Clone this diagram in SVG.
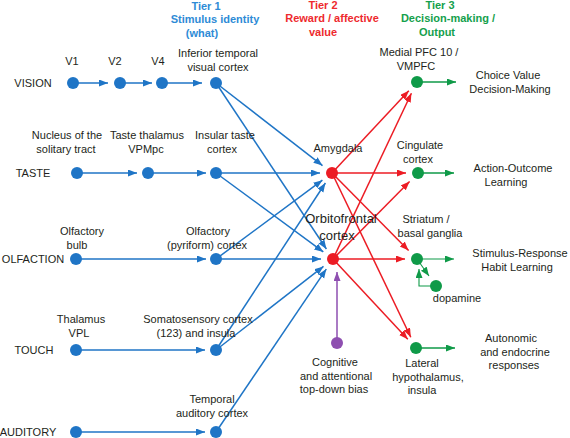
<svg xmlns="http://www.w3.org/2000/svg" width="570" height="438" viewBox="0 0 570 438">
<defs>
<style>
.lbl{font-family:"Liberation Sans",Arial,sans-serif;font-size:11px;fill:#231f20;text-anchor:middle}
.big{font-size:13px}
.tier{font-family:"Liberation Sans",Arial,sans-serif;font-size:11px;font-weight:bold;text-anchor:middle}
.t1{fill:#2e8bd6}.t2{fill:#ee2a2e}.t3{fill:#14a04c}
.cb{stroke:#1f75c6;stroke-width:1.5;fill:none}
.cr{stroke:#ec1c24;stroke-width:1.5;fill:none}
.cg{stroke:#0f9a48;stroke-width:1.5;fill:none}
.thin{stroke-width:1.1}
.cp{stroke:#8e4fb0;stroke-width:1.5;fill:none}
.nb{fill:#1f75c6}.nr{fill:#ec1c24}.ng{fill:#0f9a48}.np{fill:#8e4fb0}
</style>
<marker id="ab" markerUnits="userSpaceOnUse" markerWidth="10" markerHeight="8" refX="9" refY="3.5" orient="auto"><path d="M0,0 L9,3.5 L0,7 z" fill="#1f75c6"/></marker>
<marker id="ar" markerUnits="userSpaceOnUse" markerWidth="10" markerHeight="8" refX="9" refY="3.5" orient="auto"><path d="M0,0 L9,3.5 L0,7 z" fill="#ec1c24"/></marker>
<marker id="ag" markerUnits="userSpaceOnUse" markerWidth="10" markerHeight="8" refX="9" refY="3.5" orient="auto"><path d="M0,0 L9,3.5 L0,7 z" fill="#0f9a48"/></marker>
<marker id="ap" markerUnits="userSpaceOnUse" markerWidth="10" markerHeight="8" refX="9" refY="3.5" orient="auto"><path d="M0,0 L9,3.5 L0,7 z" fill="#8e4fb0"/></marker>
</defs>
<rect width="570" height="438" fill="#ffffff"/>

<g id="tiers">
<text class="tier t1" x="206" y="9.5">Tier 1</text>
<text class="tier t1" x="215" y="23">Stimulus identity</text>
<text class="tier t1" x="202" y="36.5">(what)</text>
<text class="tier t2" x="323" y="8.5">Tier 2</text>
<text class="tier t2" x="332" y="22">Reward / affective</text>
<text class="tier t2" x="323" y="35.5">value</text>
<text class="tier t3" x="440" y="8.5">Tier 3</text>
<text class="tier t3" x="448" y="22">Decision-making /</text>
<text class="tier t3" x="437" y="35.5">Output</text>
</g>

<g id="connectors">
<line class="cb" x1="73" y1="83" x2="108" y2="83" marker-end="url(#ab)"/>
<line class="cb" x1="120" y1="83" x2="152" y2="83" marker-end="url(#ab)"/>
<line class="cb" x1="162" y1="83" x2="202" y2="83" marker-end="url(#ab)"/>
<line class="cb" x1="77" y1="173" x2="137" y2="173" marker-end="url(#ab)"/>
<line class="cb" x1="148" y1="173" x2="206" y2="173" marker-end="url(#ab)"/>
<line class="cb" x1="76" y1="259" x2="206" y2="259" marker-end="url(#ab)"/>
<line class="cb" x1="76" y1="350" x2="205" y2="350" marker-end="url(#ab)"/>
<line class="cb" x1="76" y1="432" x2="205" y2="432" marker-end="url(#ab)"/>

<line class="cb" x1="216" y1="83" x2="322.5" y2="165.6" marker-end="url(#ab)"/>
<line class="cb" x1="216" y1="83" x2="326.4" y2="249" marker-end="url(#ab)"/>
<line class="cb" x1="216" y1="173" x2="320" y2="173" marker-end="url(#ab)"/>
<line class="cb" x1="216" y1="173" x2="323.3" y2="251.9" marker-end="url(#ab)"/>
<line class="cb" x1="216" y1="259" x2="322.4" y2="180.2" marker-end="url(#ab)"/>
<line class="cb" x1="216" y1="259" x2="321" y2="259" marker-end="url(#ab)"/>
<line class="cb" x1="216" y1="350" x2="325.4" y2="183" marker-end="url(#ab)"/>
<line class="cb" x1="216" y1="350" x2="323.5" y2="266.4" marker-end="url(#ab)"/>
<line class="cb" x1="216" y1="432" x2="326.3" y2="269.1" marker-end="url(#ab)"/>

<line class="cr" x1="332" y1="173" x2="408.8" y2="90.8" marker-end="url(#ar)"/>
<line class="cr" x1="332" y1="173" x2="406" y2="173" marker-end="url(#ar)"/>
<line class="cr" x1="332" y1="173" x2="408.6" y2="250.5" marker-end="url(#ar)"/>
<line class="cr" x1="332" y1="173" x2="410.8" y2="337.2" marker-end="url(#ar)"/>
<line class="cr" x1="333" y1="259" x2="411.4" y2="93.2" marker-end="url(#ar)"/>
<line class="cr" x1="333" y1="259" x2="409.6" y2="181.5" marker-end="url(#ar)"/>
<line class="cr" x1="333" y1="259" x2="405" y2="259" marker-end="url(#ar)"/>
<line class="cr" x1="333" y1="259" x2="407.8" y2="339.2" marker-end="url(#ar)"/>

<line class="cp" x1="337" y1="343" x2="337" y2="272" marker-end="url(#ap)"/>

<line class="cg" x1="417" y1="82" x2="456" y2="82" marker-end="url(#ag)"/>
<line class="cg" x1="418" y1="173" x2="454" y2="173" marker-end="url(#ag)"/>
<line class="cg thin" x1="417" y1="259" x2="454" y2="259" marker-end="url(#ag)"/>
<line class="cg" x1="416" y1="348" x2="455" y2="348" marker-end="url(#ag)"/>
<line class="cg thin" x1="417" y1="259" x2="429" y2="276" marker-end="url(#ag)"/>
<path class="cg thin" d="M436,286 L419,286 L419,269" marker-end="url(#ag)"/>
</g>

<g id="vision">
<text class="lbl" x="33" y="87">VISION</text>
<g id="v1"><circle class="nb" cx="73" cy="83" r="6"/><text class="lbl" x="72" y="65">V1</text></g>
<g id="v2"><circle class="nb" cx="120" cy="83" r="6"/><text class="lbl" x="115" y="65">V2</text></g>
<g id="v4"><circle class="nb" cx="162" cy="83" r="6"/><text class="lbl" x="158" y="65">V4</text></g>
<g id="it"><circle class="nb" cx="216" cy="83" r="6"/><text class="lbl" x="218" y="57">Inferior temporal</text><text class="lbl" x="218" y="70.5">visual cortex</text></g>
</g>

<g id="taste">
<text class="lbl" x="33" y="177">TASTE</text>
<g id="nts"><circle class="nb" cx="77" cy="173" r="6"/><text class="lbl" x="67" y="139">Nucleus of the</text><text class="lbl" x="66" y="152.5">solitary tract</text></g>
<g id="vpmpc"><circle class="nb" cx="148" cy="173" r="6"/><text class="lbl" x="147" y="139">Taste thalamus</text><text class="lbl" x="146" y="152.5">VPMpc</text></g>
<g id="insular"><circle class="nb" cx="216" cy="173" r="6"/><text class="lbl" x="225" y="139">Insular taste</text><text class="lbl" x="222" y="152.5">cortex</text></g>
</g>

<g id="olfaction">
<text class="lbl" x="33" y="263">OLFACTION</text>
<g id="bulb"><circle class="nb" cx="76" cy="259" r="6"/><text class="lbl" x="82" y="235">Olfactory</text><text class="lbl" x="77" y="248.5">bulb</text></g>
<g id="pyriform"><circle class="nb" cx="216" cy="259" r="6"/><text class="lbl" x="208" y="235">Olfactory</text><text class="lbl" x="207" y="248.5">(pyriform) cortex</text></g>
</g>

<g id="touch">
<text class="lbl" x="34" y="354">TOUCH</text>
<g id="vpl"><circle class="nb" cx="76" cy="350" r="6"/><text class="lbl" x="81" y="323">Thalamus</text><text class="lbl" x="79" y="336.5">VPL</text></g>
<g id="somato"><circle class="nb" cx="216" cy="350" r="6"/><text class="lbl" x="198" y="323">Somatosensory cortex</text><text class="lbl" x="196" y="336.5">(123) and insula</text></g>
</g>

<g id="auditory">
<text class="lbl" x="28" y="436">AUDITORY</text>
<g id="aud1"><circle class="nb" cx="76" cy="432" r="6"/></g>
<g id="temporal"><circle class="nb" cx="216" cy="432" r="6"/><text class="lbl" x="212" y="403">Temporal</text><text class="lbl" x="212" y="416.5">auditory cortex</text></g>
</g>

<g id="amygdala"><circle class="nr" cx="332" cy="173" r="6"/><text class="lbl" x="338" y="152">Amygdala</text></g>
<g id="ofc"><circle class="nr" cx="333" cy="259" r="6"/><text class="lbl big" x="341" y="223">Orbitofrontal</text><text class="lbl big" x="337" y="240">cortex</text></g>

<g id="cognitive"><circle class="np" cx="337" cy="343" r="6"/><text class="lbl" x="335" y="366">Cognitive</text><text class="lbl" x="336" y="379.5">and attentional</text><text class="lbl" x="334" y="393">top-down bias</text></g>

<g id="mpfc"><circle class="ng" cx="417" cy="82" r="6"/><text class="lbl" x="419" y="56">Medial PFC 10 /</text><text class="lbl" x="416" y="69.5">VMPFC</text></g>
<g id="cingulate"><circle class="ng" cx="418" cy="173" r="6"/><text class="lbl" x="420" y="149">Cingulate</text><text class="lbl" x="418" y="162.5">cortex</text></g>
<g id="striatum"><circle class="ng" cx="417" cy="259" r="6"/><text class="lbl" x="426" y="223">Striatum /</text><text class="lbl" x="430" y="236.5">basal ganglia</text></g>
<g id="dopamine"><circle class="ng" cx="436" cy="286" r="6"/><text class="lbl" x="457" y="302">dopamine</text></g>
<g id="lh"><circle class="ng" cx="416" cy="348" r="6"/><text class="lbl" x="422" y="367">Lateral</text><text class="lbl" x="428" y="380.5">hypothalamus,</text><text class="lbl" x="422" y="394">insula</text></g>

<g id="out-choice"><text class="lbl" x="508" y="79">Choice Value</text><text class="lbl" x="510" y="92.5">Decision-Making</text></g>
<g id="out-action"><text class="lbl" x="513" y="172">Action-Outcome</text><text class="lbl" x="506" y="185.5">Learning</text></g>
<g id="out-habit"><text class="lbl" x="520" y="257">Stimulus-Response</text><text class="lbl" x="517" y="270.5">Habit Learning</text></g>
<g id="out-auto"><text class="lbl" x="511" y="342">Autonomic</text><text class="lbl" x="515" y="355.5">and endocrine</text><text class="lbl" x="514" y="369">responses</text></g>
</svg>
